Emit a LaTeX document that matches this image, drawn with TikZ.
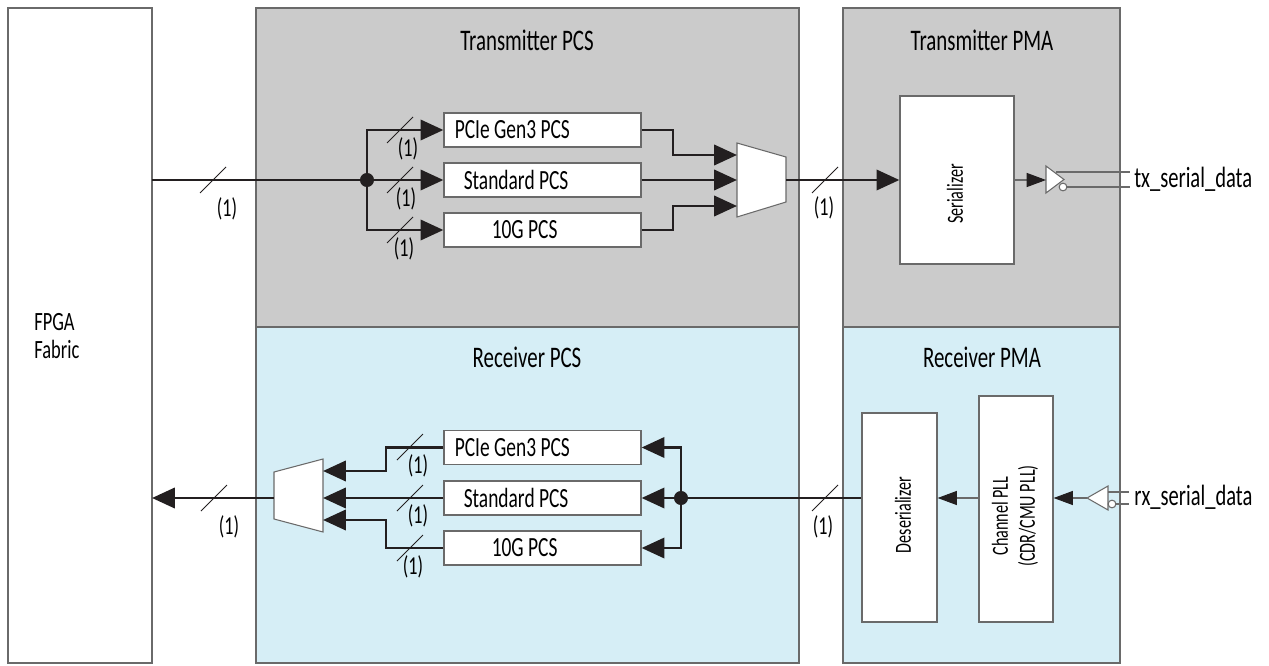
\documentclass[tikz,border=0pt]{standalone}
\usepackage{fontspec}
\setmainfont[FakeStretch=0.7]{Carlito}
\usepackage{tikz}
\usetikzlibrary{arrows.meta, calc, positioning}

\definecolor{txgray}{HTML}{CBCBCB}
\definecolor{rxblue}{HTML}{D6EEF6}
\definecolor{edgegray}{HTML}{6A6A6A}
\definecolor{sigline}{HTML}{231F20}

\tikzset{
    region/.style={draw=edgegray, line width=0.7pt},
    pcsbox/.style={draw=edgegray, fill=white, line width=0.7pt, inner sep=0pt,
        minimum width=3.94cm, minimum height=0.68cm},
    tallbox/.style={draw=edgegray, fill=white, line width=0.7pt, inner sep=0pt},
    bus/.style={line width=1.7pt, draw=sigline},
    busarrow/.style={bus, -{Triangle[length=13pt, width=11.5pt]}},
    wire/.style={line width=0.6pt, draw=edgegray},
    wirearrow/.style={wire, -{Triangle[length=11pt, width=8pt, color=sigline]}},
    slash/.style={line width=0.5pt, draw=sigline},
    muxshape/.style={draw=edgegray, fill=white, line width=0.6pt},
    title/.style={font=\fontsize{17}{19}\selectfont, inner sep=0pt},
    lbl/.style={font=\fontsize{15.8}{18}\selectfont, anchor=west, inner sep=0pt},
    sig/.style={font=\fontsize{16.7}{19}\selectfont, anchor=west, inner sep=0pt},
    buslbl/.style={font=\fontsize{14.7}{17}\selectfont, inner sep=0pt},
    rot/.style={font=\fontsize{13.1}{15.3}\selectfont, inner sep=0pt}
}

\begin{document}
\begin{tikzpicture}[x=0.02cm, y=-0.02cm]
    \useasboundingbox (0,0) rectangle (1269,666);

    % regions
    \draw[region, fill=white] (8,8) rectangle (152,663);
    \draw[region, fill=txgray] (256,8) rectangle (799,327);
    \draw[region, fill=rxblue] (256,327) rectangle (799,663);
    \draw[region, fill=txgray] (843,8) rectangle (1120,327);
    \draw[region, fill=rxblue] (843,327) rectangle (1120,663);

    \node[title] (txpcs) at (527,40) {Transmitter PCS};
    \node[title] (txpma) at (982,40) {Transmitter PMA};
    \node[title] (rxpcs) at (527,357) {Receiver PCS};
    \node[title] (rxpma) at (982,357) {Receiver PMA};
    \node[anchor=west, align=left, inner sep=0pt, font=\fontsize{15}{16}\selectfont] (fabric) at (34,336) {FPGA\\Fabric};

    % transmitter PCS
    \coordinate (txin) at (152,180);
    \coordinate (txsplit) at (367,180);
    \node[pcsbox] (txpcie) at (542.5,130) {};
    \node[pcsbox] (txstd) at (542.5,180) {};
    \node[pcsbox] (tx10g) at (542.5,230) {};
    \node[lbl] (txpcielbl) at ($(txpcie.west)+(11,0)$) {PCIe Gen3 PCS};
    \node[lbl] (txstdlbl) at ($(txstd.west)+(20,0)$) {Standard PCS};
    \node[lbl] (tx10glbl) at ($(tx10g.west)+(48,0)$) {10G PCS};

    \draw[bus] (txin) -- (txsplit);
    \draw[busarrow] (txsplit) |- (txpcie);
    \draw[busarrow] (txsplit) -- (txstd);
    \draw[busarrow] (txsplit) |- (tx10g);
    \fill[sigline] (txsplit) circle (4pt);

    \draw[muxshape] (737,143) -- (786,157) -- (786,202) -- (737,217) -- cycle;
    \coordinate (txmuxa) at (737,155);
    \coordinate (txmuxb) at (737,180);
    \coordinate (txmuxc) at (737,206);
    \coordinate (txmuxout) at (786,180);
    \draw[busarrow] (txpcie.east) -| (673,155) -- (txmuxa);
    \draw[busarrow] (txstd) -- (txmuxb);
    \draw[busarrow] (tx10g.east) -| (673,206) -- (txmuxc);

    % transmitter PMA
    \node[tallbox, minimum width=2.28cm, minimum height=3.36cm] (ser) at (957,180) {};
    \node[rot] (sertext) at (955,194) {\rotatebox{90}{Serializer}};
    \draw[busarrow] (txmuxout) -- (ser);

    \draw[muxshape] (1046,166) -- (1046,193) -- (1064,179.5) -- cycle;
    \coordinate (txbuf) at (1046,180);
    \draw[wirearrow] (ser) -- (txbuf);
    \draw[wire] (1056,172) -- (1130,172);
    \draw[wire] (1067,187) -- (1130,187);
    \draw[wire, fill=white] (1063,187) circle (2.2pt);
    \node[sig] (txdata) at (1134,179) {tx\_serial\_data};

    % receiver PMA
    \node[tallbox, minimum width=1.5cm, minimum height=4.18cm] (deser) at (899.5,517.5) {};
    \node[rot] (desertext) at (903,515) {\rotatebox{90}{Deserializer}};
    \node[tallbox, minimum width=1.48cm, minimum height=4.52cm] (cdr) at (1016,509) {};
    \node[rot] (cdrtext) at (1016,516) {\rotatebox{90}{\begin{tabular}{@{}c@{}}Channel PLL\\(CDR/CMU PLL)\end{tabular}}};

    \draw[muxshape] (1108,486) -- (1108,510) -- (1087,498) -- cycle;
    \coordinate (rxbuf) at (1087,498);
    \draw[wire] (1108,492) -- (1129,492);
    \draw[wire] (1116,504) -- (1129,504);
    \draw[wire, fill=white] (1112,504) circle (2.2pt);
    \node[sig] (rxdata) at (1134,497) {rx\_serial\_data};
    \draw[wirearrow] (rxbuf) -- (cdr.east |- rxbuf);
    \draw[wirearrow] (cdr.west |- rxbuf) -- (deser.east |- rxbuf);

    % receiver PCS
    \coordinate (rxsplit) at (681,498);
    \node[pcsbox] (rxpcie) at (542.5,447.5) {};
    \node[pcsbox] (rxstd) at (542.5,498) {};
    \node[pcsbox] (rx10g) at (542.5,548) {};
    \node[lbl] (rxpcielbl) at ($(rxpcie.west)+(11,0)$) {PCIe Gen3 PCS};
    \node[lbl] (rxstdlbl) at ($(rxstd.west)+(20,0)$) {Standard PCS};
    \node[lbl] (rx10glbl) at ($(rx10g.west)+(48,0)$) {10G PCS};

    \draw[bus] (deser.west |- rxsplit) -- (rxsplit);
    \draw[busarrow] (rxsplit) |- (rxpcie);
    \draw[busarrow] (rxsplit) -- (rxstd);
    \draw[busarrow] (rxsplit) |- (rx10g);
    \fill[sigline] (rxsplit) circle (4pt);

    \draw[muxshape] (323,459) -- (323,532) -- (274,519) -- (274,472) -- cycle;
    \coordinate (rxmuxa) at (323,471);
    \coordinate (rxmuxb) at (323,498);
    \coordinate (rxmuxc) at (323,520);
    \coordinate (rxmuxout) at (274,498);
    \coordinate (rxout) at (152,498);
    \draw[busarrow] (rxpcie.west) -| (386,471) -- (rxmuxa);
    \draw[busarrow] (rxstd) -- (rxmuxb);
    \draw[busarrow] (rx10g.west) -| (386,520) -- (rxmuxc);
    \draw[busarrow] (rxmuxout) -- (rxout);

    % bus width marks
    \foreach \sx/\sy/\lx/\ly [count=\i] in {213/180/227/209, 400/130/408/149,
        400/180/406/199, 400/230/404/249, 825/180/824/208, 214/498/229/527,
        410/447/418/466, 410/498/418/516, 410/548/413/567, 825/498/823/527}
    {
        \draw[slash] (\sx-13,\sy+13) -- (\sx+13,\sy-13);
        \node[buslbl] (width\i) at (\lx,\ly) {(1)};
    }
\end{tikzpicture}
\end{document}
